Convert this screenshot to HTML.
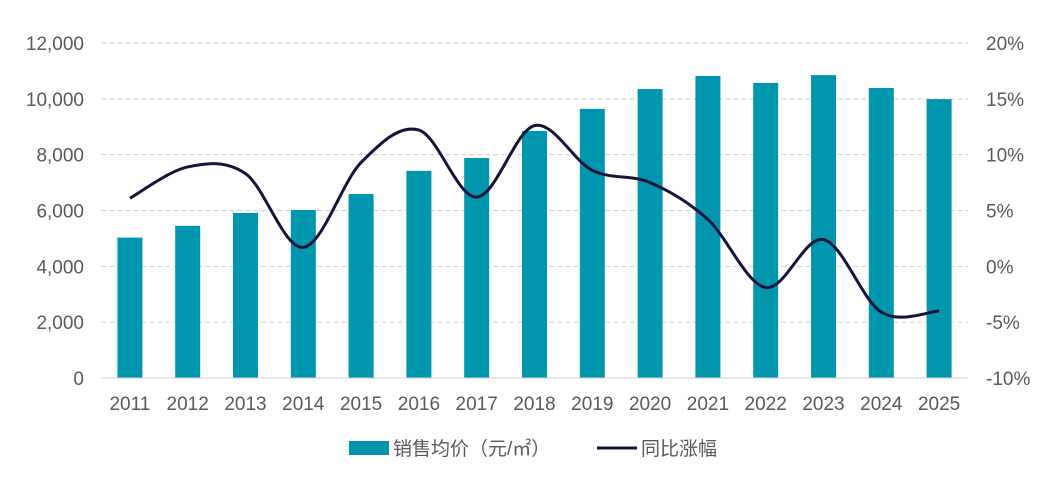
<!DOCTYPE html>
<html><head><meta charset="utf-8"><style>
html,body{margin:0;padding:0;background:#fff;}
svg{display:block;font-family:"Liberation Sans","Noto Sans CJK SC",sans-serif;}
</style></head><body>
<svg id="chart" width="1055" height="482">
<g id="grid"></g>
<g id="bars"></g>
<g id="line"></g>
<g id="axes"></g>
<g>
<rect x="349" y="441" width="40" height="14" fill="#0096AE"/>
<text x="393" y="455" font-size="19" fill="#595959">销售均价（元/㎡）</text>
<line x1="597" y1="448" x2="637" y2="448" stroke="#16143B" stroke-width="3"/>
<text x="641" y="455" font-size="19" fill="#595959">同比涨幅</text>
</g>
</svg>
<script>
const categories=["2011","2012","2013","2014","2015","2016","2017","2018","2019","2020","2021","2022","2023","2024","2025"];
const priceValues=[5030,5450,5910,6020,6590,7420,7880,8850,9640,10350,10820,10570,10850,10390,9990];
const growthValues=[6.1,8.9,8.3,1.7,9.3,12.2,6.2,12.6,8.6,7.5,4.2,-1.9,2.4,-4.1,-4.0];
const leftTicks=[0,2000,4000,6000,8000,10000,12000];
const rightTicks=[-10,-5,0,5,10,15,20];
const NS="http://www.w3.org/2000/svg";
const plotTop=43,plotBottom=378,x0=101,x1=968;
const step=(x1-x0)/categories.length;
const xPos=i=>x0+step*(i+0.5);
const yL=v=>plotBottom-(v/12000)*(plotBottom-plotTop);
const yR=v=>plotBottom-((v+10)/30)*(plotBottom-plotTop);
function mk(tag,attrs,parent){const e=document.createElementNS(NS,tag);for(const k in attrs)e.setAttribute(k,attrs[k]);parent.appendChild(e);return e;}
const grid=document.getElementById('grid'),bars=document.getElementById('bars'),lineG=document.getElementById('line'),axes=document.getElementById('axes');
leftTicks.forEach(t=>{
  const y=yL(t);
  if(t>0){const g=mk('line',{x1:x0,x2:x1,y1:y,y2:y,stroke:'#D0D0D0','stroke-width':1,'stroke-dasharray':'5,3'},grid);
  
  }
  const tx=mk('text',{x:84,y:y+7,'font-size':19,fill:'#595959','text-anchor':'end'},axes);
  tx.textContent=t.toLocaleString('en-US');
  
  
});
rightTicks.forEach(t=>{
  const tx=mk('text',{x:986,y:yR(t)+7,'font-size':19,fill:'#595959'},axes);
  tx.textContent=t+'%';
  
  
});
const ax=mk('line',{x1:x0,x2:x1,y1:plotBottom,y2:plotBottom,stroke:'#D0D0D0','stroke-width':1},axes);


const bw=25;
categories.forEach((c,i)=>{
  const y=yL(priceValues[i]);
  const r=mk('rect',{x:xPos(i)-bw/2,y:y,width:bw,height:plotBottom-y,fill:'#0096AE'},bars);
  
  
  const tx=mk('text',{x:xPos(i),y:410,'font-size':19,fill:'#595959','text-anchor':'middle'},axes);
  tx.textContent=c;
  
  
});
const pts=growthValues.map((v,i)=>[xPos(i),yR(v)]);
let d='M'+pts[0][0]+','+pts[0][1];
for(let i=0;i<pts.length-1;i++){
  const p0=pts[i-1]||pts[i],p1=pts[i],p2=pts[i+1],p3=pts[i+2]||p2,t=6;
  d+=` C${p1[0]+(p2[0]-p0[0])/t},${p1[1]+(p2[1]-p0[1])/t} ${p2[0]-(p3[0]-p1[0])/t},${p2[1]-(p3[1]-p1[1])/t} ${p2[0]},${p2[1]}`;
}
const path=mk('path',{d:d,fill:'none',stroke:'#16143B','stroke-width':3,'stroke-linejoin':'round'},lineG);


</script>
</body></html>
